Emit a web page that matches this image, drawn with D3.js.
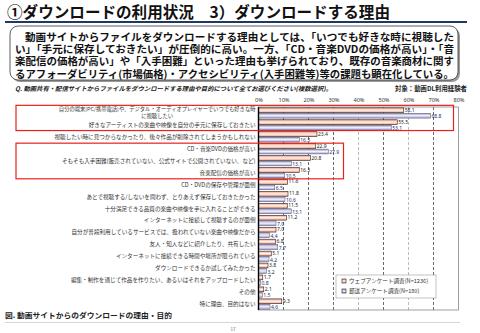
<!DOCTYPE html>
<html><head><meta charset="utf-8">
<script src="https://cdn.jsdelivr.net/npm/d3@7"></script>
<style>
body{margin:0;background:#fff}
svg{display:block;font-family:"Noto Sans CJK JP","Noto Sans",sans-serif}
</style>
</head><body>
<svg id="c" width="480" height="333"></svg>
<script>
const categories = [
  "自分の端末(PC/携帯電話)や、デジタル・オーディオプレイヤーでいつでも好きな時\nに視聴したい",
  "好きなアーティストの楽曲や映像を自分の手元に保存しておきたい",
  "視聴したい時に見つからなかったり、後々作品が削除されてしまうかもしれない",
  "CD・音楽DVDの価格が高い",
  "そもそも入手困難(販売されていない、公式サイトで公開されていない、など)",
  "音楽配信の価格が高い",
  "CD・DVDの保存や管理が面倒",
  "あとで視聴する/しないを問わず、とりあえず保存しておきたかった",
  "十分満足できる品質の楽曲や映像を手に入れることができる",
  "インターネットに接続して視聴するのが面倒",
  "自分が普段利用しているサービスでは、扱われていない楽曲や映像だから",
  "友人・知人などに紹介したり、共有したい",
  "インターネットに接続できる時間や場所が限られている",
  "ダウンロードできるか試してみたかった",
  "編集・制作を通じて作品を作りたい、あるいはそれをアップロードしたい",
  "その他",
  "特に理由、目的はない"
];
const webValues  = [58.1, 55.5, 23.4, 22.9, 20.8, 16.3, 11.6, 11.8, 11.5, 11.2, 7.0, 6.8, 5.1, 3.8, 1.7, 2.1, 9.3];
const mailValues = [68.8, 53.1, 16.3, 27.9, 13.1, 10.5, 6.5, 10.6, 13.1, 7.0, 4.4, 7.7, 4.2, 3.2, 0.8, 1.5, 4.6];
const seriesNames = ["ウェブアンケート調査(N=1236)", "郵送アンケート調査(N=180)"];
const tickValues = [0, 10, 20, 30, 40, 50, 60, 70, 80];
const titleText = "①ダウンロードの利用状況　3）ダウンロードする理由";
const bodyLines = [
  "動画サイトからファイルをダウンロードする理由としては、「いつでも好きな時に視聴した",
  "い」「手元に保存しておきたい」が圧倒的に高い。一方、「CD・音楽DVDの価格が高い」・「音",
  "楽配信の価格が高い」や「入手困難」といった理由も挙げられており、既存の音楽商材に関す",
  "るアフォーダビリティ(市場価格)・アクセシビリティ(入手困難等)等の課題も顕在化している。"
];
const questionText = "Q. 動画共有・配信サイトからファイルをダウンロードする理由や目的について全てお選びください(複数選択)。";
const targetText = "対象：動画DL利用経験者";
const captionText = "図. 動画サイトからのダウンロードの理由・目的";
const pageNumber = "17";

const svg = d3.select("#c");
const defs = svg.append("defs");
function grad(id, edge, mid) {
  const g = defs.append("linearGradient").attr("id", id).attr("x1", 0).attr("y1", 0).attr("x2", 0).attr("y2", 1);
  g.append("stop").attr("offset", "0%").attr("stop-color", edge);
  g.append("stop").attr("offset", "50%").attr("stop-color", mid);
  g.append("stop").attr("offset", "100%").attr("stop-color", edge);
}
grad("gWeb", "#ee9a7f", "#fff4ef");
grad("gMail", "#9a98d6", "#f2f2fb");

// Title
svg.append("text").attr("x", 7).attr("y", 18).attr("font-size", 15.5).attr("font-weight", "bold")
  .attr("fill", "#111").attr("textLength", 383).attr("lengthAdjust", "spacingAndGlyphs").text(titleText);
svg.append("line").attr("x1", 5).attr("x2", 467).attr("y1", 22).attr("y2", 22)
  .attr("stroke", "#1f3864").attr("stroke-width", 2);

// Summary box
svg.append("rect").attr("x", 12).attr("y", 28).attr("width", 448).attr("height", 54).attr("rx", 8)
  .attr("fill", "#9a9a9a");
svg.append("rect").attr("x", 10).attr("y", 26).attr("width", 448).attr("height", 54).attr("rx", 8)
  .attr("fill", "#fff").attr("stroke", "#333").attr("stroke-width", 0.8);
const lineStarts = [25, 15, 15, 15];
bodyLines.forEach((t, i) => {
  svg.append("text").attr("x", lineStarts[i]).attr("y", 41 + i * 12.2)
    .attr("font-size", 10.2).attr("font-weight", "bold").attr("fill", "#111")
    .attr("textLength", 454 - lineStarts[i]).attr("lengthAdjust", "spacingAndGlyphs").text(t);
});

// Question line
svg.append("text").attr("x", 15).attr("y", 91).attr("font-size", 6.3).attr("font-weight", "bold")
  .attr("font-style", "italic").attr("fill", "#222").attr("textLength", 317)
  .attr("lengthAdjust", "spacingAndGlyphs").text(questionText);
svg.append("text").attr("x", 395).attr("y", 91).attr("font-size", 6.5).attr("font-weight", "bold")
  .attr("fill", "#222").attr("textLength", 72).attr("lengthAdjust", "spacingAndGlyphs").text(targetText);

// Scales
const plotTop = 107, plotBottom = 310;
const x = d3.scaleLinear().domain([0, 80]).range([258.5, 458.5]);
const y = d3.scaleBand().domain(categories.map((c, i) => i)).range([plotTop, plotBottom]).paddingInner(0.14).paddingOuter(0.07);
const ys = d3.scaleBand().domain(["web", "mail"]).range([0, y.bandwidth()]).paddingInner(0.12);

// Grid
const grid = svg.append("g");
grid.selectAll("line").data(tickValues.filter(d => d > 0 && d < 80)).join("line")
  .attr("x1", d => x(d)).attr("x2", d => x(d)).attr("y1", plotTop).attr("y2", plotBottom)
  .attr("stroke", d => (d === 40 || d === 60) ? "#aaa" : "#444")
  .attr("stroke-width", 0.8).attr("stroke-dasharray", "3,2");
// Frame
svg.append("rect").attr("x", x(0)).attr("y", plotTop).attr("width", x(80) - x(0)).attr("height", plotBottom - plotTop)
  .attr("fill", "none").attr("stroke", "#888").attr("stroke-width", 0.8);

// Axis
const axis = svg.append("g").attr("transform", `translate(0,${plotTop - 2})`)
  .call(d3.axisTop(x).tickValues(tickValues).tickFormat(d => d + "%").tickSize(0).tickPadding(3));
axis.select(".domain").remove();
axis.selectAll("text").attr("font-size", 5.6).attr("fill", "#333").attr("font-family", "\"Noto Sans\",sans-serif");

// Bars
const rows = categories.map((c, i) => ({ i, web: webValues[i], mail: mailValues[i] }));
const g = svg.append("g");
g.selectAll("rect.web").data(rows).join("rect").attr("class", "web")
  .attr("x", x(0)).attr("y", d => y(d.i) + ys("web")).attr("width", d => x(d.web) - x(0))
  .attr("height", ys.bandwidth()).attr("fill", "url(#gWeb)").attr("stroke", "#222").attr("stroke-width", 0.6);
g.selectAll("rect.mail").data(rows).join("rect").attr("class", "mail")
  .attr("x", x(0)).attr("y", d => y(d.i) + ys("mail")).attr("width", d => x(d.mail) - x(0))
  .attr("height", ys.bandwidth()).attr("fill", "url(#gMail)").attr("stroke", "#555").attr("stroke-width", 0.5);

// Value labels
g.selectAll("text.vw").data(rows).join("text").attr("class", "vw")
  .attr("x", d => x(d.web) + 1).attr("y", d => y(d.i) + ys("web") + ys.bandwidth() / 2 + 1.6)
  .attr("font-size", 5).attr("fill", "#222").attr("font-family", "\"Noto Sans\",sans-serif")
  .text(d => d.web.toFixed(1));
g.selectAll("text.vm").data(rows).join("text").attr("class", "vm")
  .attr("x", d => x(d.mail) + 1).attr("y", d => y(d.i) + ys("mail") + ys.bandwidth() / 2 + 2.6)
  .attr("font-size", 5).attr("fill", "#1c2f6b").attr("font-family", "\"Noto Sans\",sans-serif")
  .text(d => d.mail.toFixed(1));

// Left axis line
svg.append("line").attr("x1", x(0)).attr("x2", x(0)).attr("y1", plotTop).attr("y2", plotBottom)
  .attr("stroke", "#000").attr("stroke-width", 1.4);

// Category labels
const lab = svg.append("g");
categories.forEach((c, i) => {
  const parts = c.split("\n");
  const cy = y(i) + y.bandwidth() / 2;
  const rx = x(0) - 3;
  if (parts.length === 1) {
    lab.append("text").attr("x", rx).attr("y", cy + 2).attr("text-anchor", "end")
      .attr("font-size", 5.6).attr("fill", "#333").text(c);
  } else {
    const t1 = lab.append("text").attr("x", rx).attr("y", cy - 1.6).attr("text-anchor", "end")
      .attr("font-size", 5.3).attr("fill", "#333").text(parts[0]);
    const L = t1.node().getComputedTextLength();
    lab.append("text").attr("x", rx - L / 2).attr("y", cy + 5.4).attr("text-anchor", "middle")
      .attr("font-size", 5.3).attr("fill", "#333").text(parts[1]);
  }
});

// Red highlight boxes
svg.append("rect").attr("x", 16).attr("y", y(0) - 2.5).attr("width", x(78) - 16)
  .attr("height", y(1) + y.bandwidth() + 0.5 - (y(0) - 2.5))
  .attr("fill", "none").attr("stroke", "#e8201c").attr("stroke-width", 1.2);
svg.append("rect").attr("x", 16).attr("y", y(3) - 0.5).attr("width", x(34) - 16)
  .attr("height", y(5) + y.bandwidth() + 1 - (y(3) - 0.5))
  .attr("fill", "none").attr("stroke", "#e8201c").attr("stroke-width", 1.2);

// Legend
const leg = svg.append("g");
leg.append("rect").attr("x", 336).attr("y", 275).attr("width", 100).attr("height", 23)
  .attr("fill", "#fff").attr("stroke", "#999").attr("stroke-width", 0.6);
const legFills = ["url(#gWeb)", "url(#gMail)"];
seriesNames.forEach((s, i) => {
  const yy = 280 + i * 10;
  leg.append("rect").attr("x", 342).attr("y", yy - 1).attr("width", 4).attr("height", 4)
    .attr("fill", legFills[i]).attr("stroke", "#222").attr("stroke-width", 0.6);
  leg.append("text").attr("x", 349).attr("y", yy + 3.2).attr("font-size", 5.6).attr("fill", "#333").text(s);
});

// Caption & footer
svg.append("text").attr("x", 5).attr("y", 318).attr("font-size", 7.4).attr("font-weight", "bold")
  .attr("fill", "#222").attr("textLength", 167).attr("lengthAdjust", "spacingAndGlyphs").text(captionText);
svg.append("line").attr("x1", 5).attr("x2", 460).attr("y1", 322.5).attr("y2", 322.5)
  .attr("stroke", "#ccc").attr("stroke-width", 0.8);
svg.append("text").attr("x", 233).attr("y", 331).attr("font-size", 4.5).attr("fill", "#666")
  .attr("text-anchor", "middle").text(pageNumber);
</script>
</body></html>
